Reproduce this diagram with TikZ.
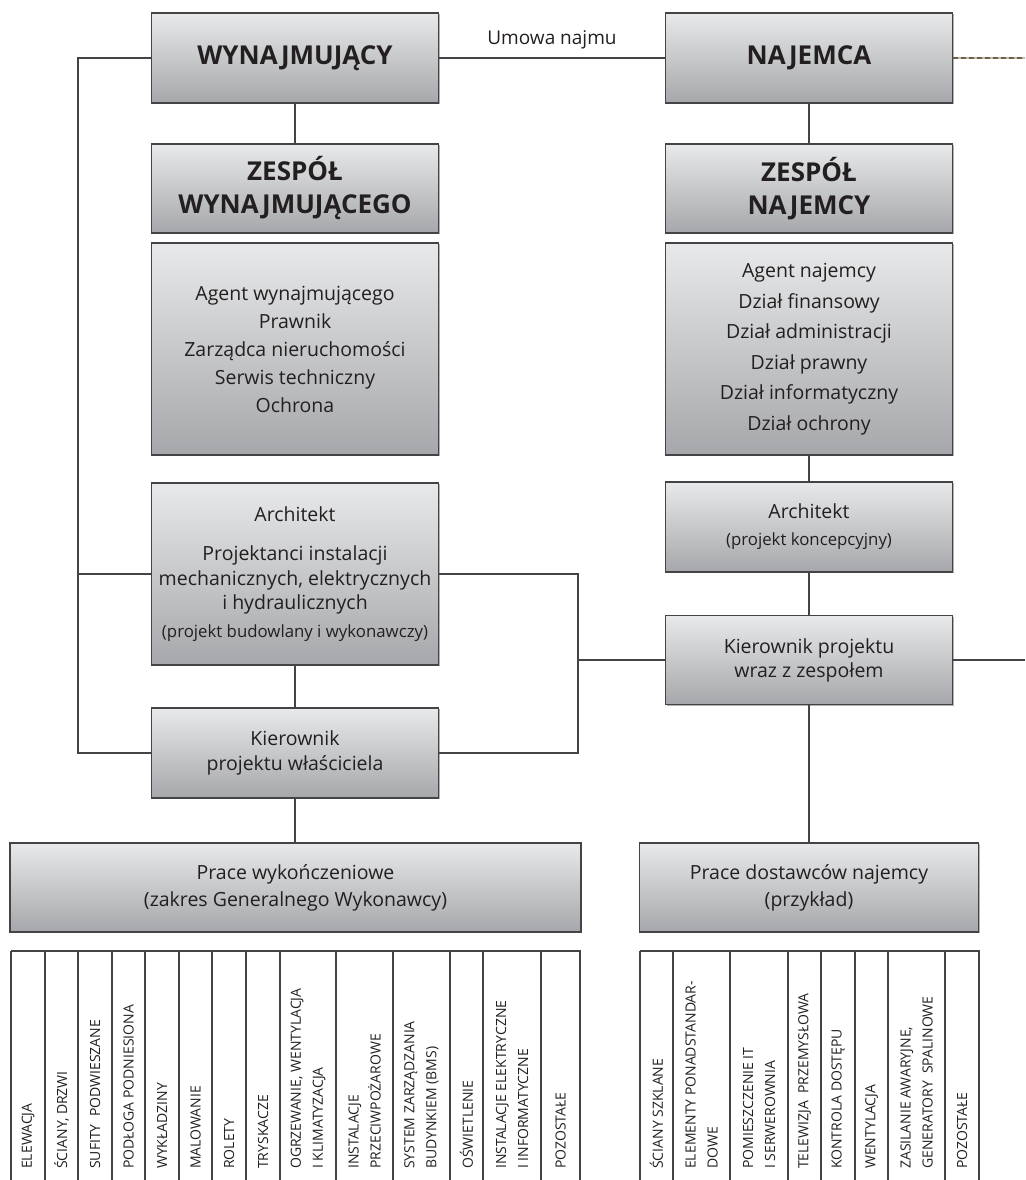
\documentclass[tikz,border=0pt]{standalone}
\usepackage{fontspec}
\setmainfont{Open Sans}
\usetikzlibrary{shadows}
\definecolor{boxtop}{RGB}{232,233,234}
\definecolor{boxbot}{RGB}{165,167,170}
\definecolor{edge}{RGB}{68,68,70}
\definecolor{ink}{RGB}{35,31,32}
\definecolor{contract}{RGB}{112,94,60}
\begin{document}
\begin{tikzpicture}[x=1pt,y=-1pt,
  box/.style={draw=edge,line width=1.2pt,top color=boxtop,bottom color=boxbot,
    minimum width=287pt,inner sep=0pt,align=center,text=ink,
    font=\fontsize{19.5}{27}\selectfont,
    drop shadow={shadow xshift=1.2pt,shadow yshift=-1.2pt,fill=black!60}},
  head/.style={box,font=\bfseries\fontsize{26}{33}\selectfont},
  link/.style={draw=edge,line width=1.2pt},
  tab/.style={draw=edge,line width=1.2pt},
  col/.style={rotate=90,anchor=west,align=left,inner sep=0pt,text=ink,
    font=\fontsize{14}{22}\selectfont}]
  % Coordinates are pixels of the page, y grows downwards.
  \useasboundingbox (0,0) rectangle (1025,1180);
  \node[head,minimum height=90pt] (wyn) at (295,58) {WYNAJMUJĄCY};
  \node[head,minimum height=90pt] (naj) at (809,58) {NAJEMCA};
  \node[head,minimum height=89pt] (zwyn) at (295,188.5) {ZESPÓŁ\\WYNAJMUJĄCEGO};
  \node[head,minimum height=89pt] (znaj) at (809,188.5) {ZESPÓŁ\\NAJEMCY};
  \node[box,minimum height=212pt,font=\fontsize{19.5}{28}\selectfont] (lwyn) at (295,349)
    {Agent wynajmującego\\Prawnik\\Zarządca nieruchomości\\Serwis techniczny\\Ochrona};
  \node[box,minimum height=212pt,font=\fontsize{19.5}{30.5}\selectfont] (lnaj) at (809,349)
    {Agent najemcy\\Dział finansowy\\Dział administracji\\Dział prawny\\Dział informatyczny\\Dział ochrony};
  \node[box,minimum height=182pt,font=\fontsize{19.5}{24.5}\selectfont] (arw) at (295,574)
    {Architekt\\[15pt]Projektanci instalacji\\mechanicznych, elektrycznych\\i hydraulicznych\\[3pt]
     {\fontsize{16.8}{20}\selectfont(projekt budowlany i wykonawczy)}};
  \node[box,minimum height=90pt] (arn) at (809,527)
    {Architekt\\{\fontsize{16.8}{20}\selectfont(projekt koncepcyjny)}};
  \node[box,minimum height=89pt,font=\fontsize{19.5}{24}\selectfont] (kpn) at (809,660)
    {Kierownik projektu\\wraz z zespołem};
  \node[box,minimum height=90pt,font=\fontsize{19.5}{25}\selectfont] (kpw) at (295,753)
    {Kierownik\\projektu właściciela};
  \node[box,minimum width=571pt,minimum height=89pt] (pwk) at (295.5,887.5)
    {Prace wykończeniowe\\(zakres Generalnego Wykonawcy)};
  \node[box,minimum width=339pt,minimum height=89pt] (pdn) at (809,887.5)
    {Prace dostawców najemcy\\(przykład)};
  % connectors
  \coordinate (lbus) at (78,58);
  \coordinate (rbus) at (578,660);
  \coordinate (rend) at (1025,660);
  \coordinate (nend) at (1025,58);
  \draw[link] (wyn) -- node[above=8pt,inner sep=0pt,text=ink,font=\fontsize{19}{22}\selectfont] (umowa) {Umowa najmu} (naj);
  \draw[gray!55,line width=1.6pt] (naj.east) -- (nend);
  \draw[contract,line width=1.6pt,dash pattern=on 5pt off 3pt] (naj.east) -- (nend);
  \draw[link] (wyn) -- (zwyn);
  \draw[link] (naj) -- (znaj);
  \draw[link] (lnaj) -- (arn);
  \draw[link] (arn) -- (kpn);
  \draw[link] (arw) -- (kpw);
  \draw[link] (kpw.south) -- (kpw.south |- pwk.north);
  \draw[link] (wyn.west) -- (lbus) |- (kpw.west);
  \draw[link] (arw.west) -- (arw.west -| lbus);
  \draw[link] (arw.east) -| (rbus) |- (kpw.east);
  \draw[link] (kpn.west) -- (rbus);
  \draw[link] (kpn.east) -- (rend);
  \draw[link] (kpn) -- (pdn);
  % scope of works, general contractor
  \draw[tab] (11,951) -- (580,951) -- (580,1180);
  \foreach \a/\b/\lab [count=\i] in {11/45/ELEWACJA, 45/78/{ŚCIANY, DRZWI}, 78/112/SUFITY~~PODWIESZANE,
      112/145/PODŁOGA PODNIESIONA, 145/179/WYKŁADZINY, 179/212/MALOWANIE, 212/246/ROLETY,
      246/280/TRYSKACZE, 280/336/{OGRZEWANIE, WENTYLACJA\\I KLIMATYZACJA},
      336/393/INSTALACJE\\PRZECIWPOŻAROWE, 393/450/SYSTEM ZARZĄDZANIA\\BUDYNKIEM (BMS),
      450/483/OŚWIETLENIE, 483/541/INSTALACJE ELEKTRYCZNE\\I INFORMATYCZNE, 541/580/POZOSTAŁE}{
    \draw[tab] (\a,951) -- (\a,1180);
    \node[col] (gw\i) at ({(\a+\b)/2},1169) {\lab};
  }
  % scope of works, tenant suppliers
  \draw[tab] (640,951) -- (979,951) -- (979,1180);
  \foreach \a/\b/\lab [count=\i] in {640/673/ŚCIANY SZKLANE, 673/730/ELEMENTY PONADSTANDAR-\\DOWE,
      730/788/POMIESZCZENIE IT\\I SERWEROWNIA, 788/821/TELEWIZJA~~PRZEMYSŁOWA,
      821/855/KONTROLA DOSTĘPU, 855/888/WENTYLACJA,
      888/945/{ZASILANIE AWARYJNE,\\GENERATORY~~SPALINOWE}, 945/979/POZOSTAŁE}{
    \draw[tab] (\a,951) -- (\a,1180);
    \node[col] (dn\i) at ({(\a+\b)/2},1169) {\lab};
  }
\end{tikzpicture}
\end{document}
